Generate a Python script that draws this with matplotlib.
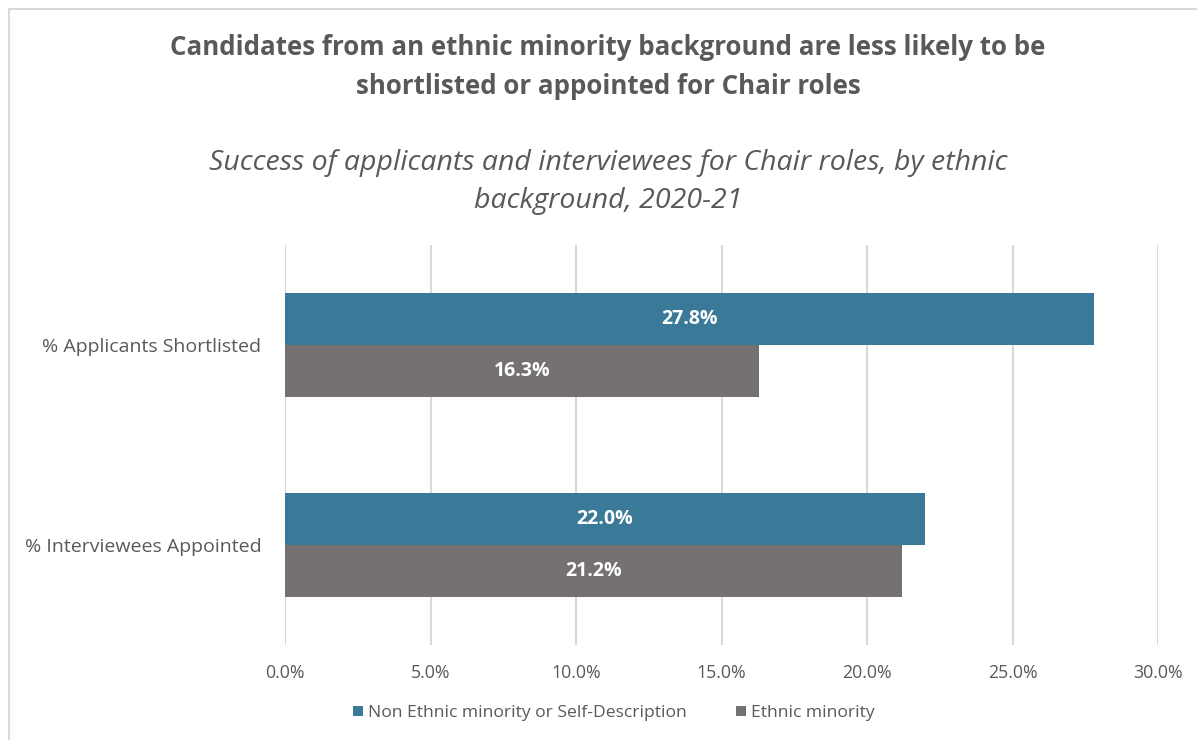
import numpy as np
import matplotlib.pyplot as plt
from matplotlib.patches import Rectangle

# data
categories = ["% Applicants Shortlisted", "% Interviewees Appointed"]
series_names = ["Non Ethnic minority or Self-Description", "Ethnic minority"]
non_minority = [27.8, 22.0]
minority = [16.3, 21.2]
x_ticks = [0, 5, 10, 15, 20, 25, 30]

BLUE = "#3A7A98"
GREY = "#767171"
TEXT = "#595959"

plt.rcParams['font.family'] = ['Open Sans', 'DejaVu Sans']

fig = plt.figure(figsize=(11.97, 7.4), dpi=100)
W, H = 1197, 740

# chart frame
fig.patches.append(Rectangle((9 / W, -0.1), 1.2, 1 - 9 / H + 0.1, transform=fig.transFigure,
                             fill=False, edgecolor="#D9D9D9", linewidth=1.5))

ax = fig.add_axes([285 / W, 1 - 645 / H, (1158 - 285) / W, 400 / H])

y = np.arange(len(categories))
h = 0.26
b1 = ax.barh(y - h / 2, non_minority, height=h, color=BLUE, label=series_names[0])
b2 = ax.barh(y + h / 2, minority, height=h, color=GREY, label=series_names[1])

for bars, vals in ((b1, non_minority), (b2, minority)):
    for bar, v in zip(bars, vals):
        ax.text(v / 2, bar.get_y() + bar.get_height() / 2, f"{v:.1f}%",
                ha="center", va="center", color="white", fontsize=14, fontweight="bold")

ax.set_xlim(0, 30)
ax.set_ylim(1.5, -0.5)
ax.set_xticks(x_ticks)
ax.set_xticklabels([f"{t:.1f}%" for t in x_ticks], fontsize=12.8)
ax.set_yticks(y)
ax.set_yticklabels(categories, fontsize=14)
ax.tick_params(length=0, colors=TEXT)
ax.tick_params(axis="x", pad=14)
ax.tick_params(axis="y", pad=17)
ax.grid(axis="x", color="#D9D9D9", linewidth=1.5)
ax.set_axisbelow(True)
for s in ax.spines.values():
    s.set_visible(False)

fig.text(608 / W, 1 - 67 / H,
         "Candidates from an ethnic minority background are less likely to be\nshortlisted or appointed for Chair roles",
         ha="center", va="center", fontsize=18.6, fontweight="bold", color=TEXT, linespacing=1.53)
fig.text(608 / W, 1 - 182 / H,
         "Success of applicants and interviewees for Chair roles, by ethnic\nbackground, 2020-21",
         ha="center", va="center", fontsize=20.5, style="italic", color=TEXT, linespacing=1.52)

fig.legend(handles=[b1, b2], loc="center", bbox_to_anchor=(614 / W, 1 - 713 / H), ncol=2,
           frameon=False, fontsize=12.6, labelcolor=TEXT, handlelength=0.55, handleheight=0.55,
           columnspacing=2.8, handletextpad=0.3)

fig.savefig("out.png", dpi=100)
